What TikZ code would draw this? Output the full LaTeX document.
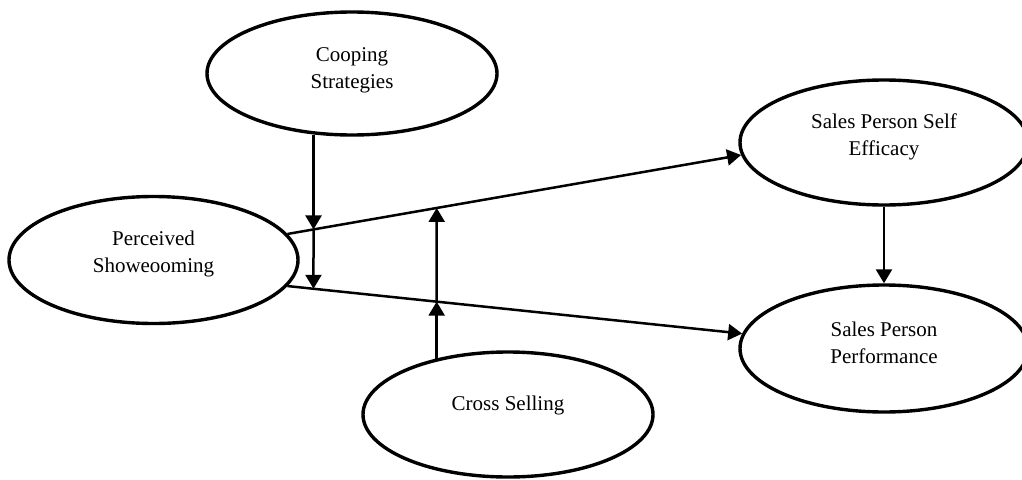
\documentclass[tikz,border=0pt]{standalone}
\usepackage{fontspec}
\setmainfont{Liberation Serif}
\usetikzlibrary{shapes.geometric,arrows.meta}
\begin{document}
\begin{tikzpicture}[x=1pt,y=-1pt,
  construct/.style={draw,ellipse,line width=3.4pt,inner sep=0pt},
  label text/.style={align=center,font=\fontsize{21}{27}\selectfont,inner sep=0pt},
  conn/.style={line width=2.5pt,-{Triangle[length=14pt,width=16pt]}}]
\useasboundingbox (0,0) rectangle (1022,479);

% constructs
\node[construct,minimum width=290pt,minimum height=123pt] (cs) at (352,73.5) {};
\node[construct,minimum width=289pt,minimum height=127pt] (ps) at (153.5,260) {};
\node[construct,minimum width=290pt,minimum height=125pt] (cl) at (508,414.5) {};
\node[construct,minimum width=288pt,minimum height=125pt] (se) at (884,142.5) {};
\node[construct,minimum width=288pt,minimum height=127pt] (sp) at (884,348.5) {};

% construct names
\node[label text] (cs-t) at (352,70.5) {Cooping\\Strategies};
\node[label text] (ps-t) at (153.5,254) {Perceived\\Showeooming};
\node[label text] (cl-t) at (508,405) {Cross Selling};
\node[label text] (se-t) at (884,136.5) {Sales Person Self\\Efficacy};
\node[label text] (sp-t) at (884,343) {Sales Person\\Performance};

% direct paths
\draw[conn] (ps.11) -- (se.185);
\draw[conn] (ps.-11) -- (sp.174);
\draw[conn] (se.south) -- (sp.north);

% moderator guides and their meeting points with the two paths
\coordinate (g1a) at (313.5,0);
\coordinate (g1b) at (313.5,479);
\coordinate (g2a) at (436.7,0);
\coordinate (g2b) at (436.7,479);
\coordinate (u1) at (intersection of ps.11--se.185 and g1a--g1b);
\coordinate (l1) at (intersection of ps.-11--sp.174 and g1a--g1b);
\coordinate (u2) at (intersection of ps.11--se.185 and g2a--g2b);
\coordinate (l2) at (intersection of ps.-11--sp.174 and g2a--g2b);

% moderating effects
\draw[conn] (u1 |- cs.238) -- (u1);
\draw[conn] (u1) -- (l1);
\draw[conn] (l2 |- cl.143) -- (l2);
\draw[conn] (l2) -- (u2);
\end{tikzpicture}
\end{document}
